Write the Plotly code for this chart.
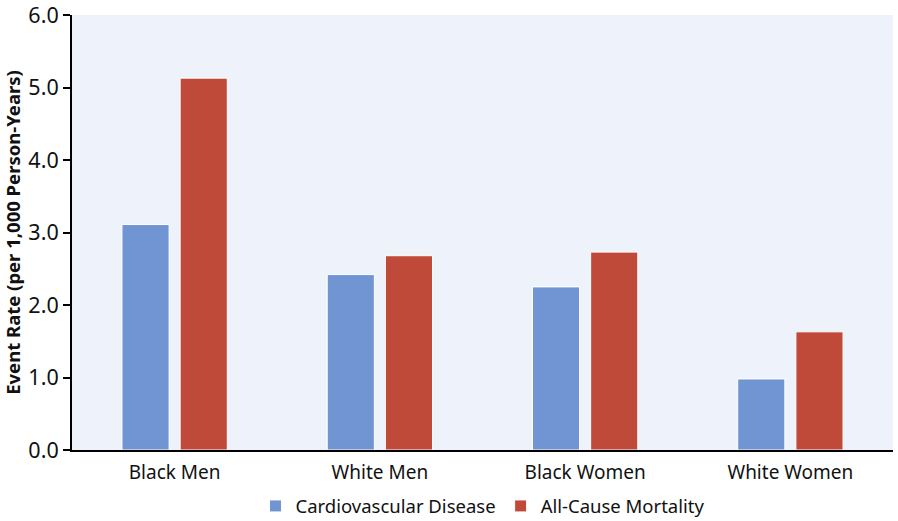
import plotly.graph_objects as go

categories = ["Black Men", "White Men", "Black Women", "White Women"]
cvd = [3.11, 2.42, 2.25, 0.98]
acm = [5.13, 2.68, 2.73, 1.63]
y_ticks = [0, 1, 2, 3, 4, 5, 6]
y_tick_labels = ["0.0", "1.0", "2.0", "3.0", "4.0", "5.0", "6.0"]

FONT = "Noto Sans"

fig = go.Figure()
fig.add_trace(go.Bar(x=categories, y=cvd, name="Cardiovascular Disease",
                     marker=dict(color="#7095d2", line=dict(color="white", width=1))))
fig.add_trace(go.Bar(x=categories, y=acm, name="All-Cause Mortality",
                     marker=dict(color="#bf4a3a", line=dict(color="white", width=1))))

fig.update_layout(
    width=898, height=521,
    margin=dict(l=72, r=5, t=15, b=71, autoexpand=False),
    paper_bgcolor="white",
    plot_bgcolor="#eef2fa",
    barmode="group",
    bargap=0.433,
    bargroupgap=0.19,
    font=dict(family=FONT, size=19, color="#111111"),
    showlegend=True,
    legend=dict(orientation="h", x=0.5, xanchor="center",
                yref="container", y=0.028, yanchor="middle",
                bgcolor="rgba(0,0,0,0)",
                font=dict(size=18.5), itemwidth=30, traceorder="normal"),
    xaxis=dict(showline=True, linecolor="black", linewidth=2, ticks="outside",
               ticklen=4, tickcolor="rgba(0,0,0,0)",
               showgrid=False, tickfont=dict(size=19), automargin=False),
    yaxis=dict(range=[0, 6.001], tickvals=y_ticks, ticktext=y_tick_labels,
               showline=True, linecolor="black", linewidth=2, ticks="outside",
               ticklen=7, tickwidth=2, tickcolor="black", showgrid=False,
               zeroline=False, tickfont=dict(size=21.5), automargin=False,
               ticklabeloverflow="allow",
               title=dict(text="<b>Event Rate (per 1,000 Person-Years)</b>",
                          font=dict(size=18.5), standoff=6)),
)

fig.write_html("out.html", config={"displayModeBar": False},
               post_script="document.body.style.margin='0';")
